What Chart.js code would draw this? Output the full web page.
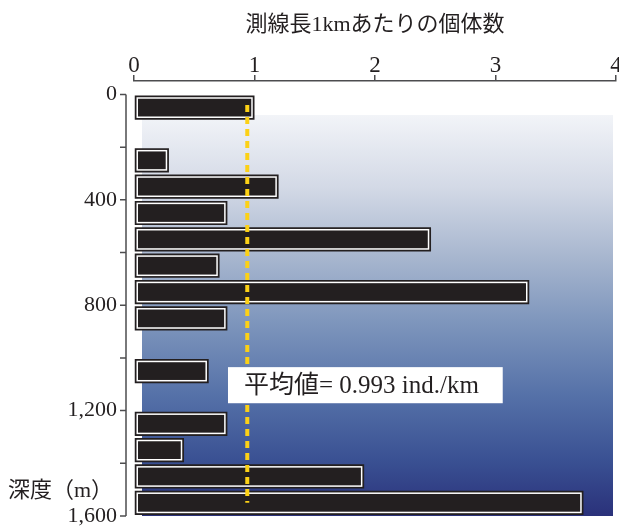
<!DOCTYPE html>
<html>
<head>
<meta charset="utf-8">
<script src="https://cdn.jsdelivr.net/npm/chart.js@4.4.1/dist/chart.umd.min.js"></script>
<style>
    html, body { margin: 0; padding: 0; background: #fff; }
    #wrap { width: 619px; height: 528px; }
</style>
</head>
<body>
<div id="wrap"><canvas id="depthChart"></canvas></div>
<script>
// centre of each 100 m depth layer and the count per 1 km of survey line
const depthBins = [50, 150, 250, 350, 450, 550, 650, 750, 850, 950, 1050, 1150, 1250, 1350, 1450, 1550];
const counts = [1.0, null, 0.29, 1.2, 0.775, 2.465, 0.71, 3.28, 0.775, null, 0.62, null, 0.775, 0.415, 1.91, 3.73];

const xTicks = [0, 1, 2, 3, 4];
const depthTicks = [0, 200, 400, 600, 800, 1000, 1200, 1400, 1600];
const labeledDepths = [0, 400, 800, 1200, 1600];

const meanValue = 0.993;
const meanLineX = 0.94; // where the dashed line sits in the figure
const xTitle = '測線長1kmあたりの個体数';
const yTitle = '深度（m）';
const meanLabel = '平均値= ' + meanValue + ' ind./km';

const ink = '#231f20';
const axisColor = '#4d4d4f';
const serif = "'Liberation Serif', 'Noto Sans CJK JP', serif";

// blue wash behind the bars, lighter near the surface
const backgroundPlugin = {
    id: 'seaBackground',
    beforeDatasetsDraw(chart) {
        const { ctx, chartArea: a, scales: { y } } = chart;
        const top = y.getPixelForValue(78);
        const g = ctx.createLinearGradient(0, top, 0, a.bottom);
        g.addColorStop(0, '#f2f4f8');
        g.addColorStop(0.18, '#d3d9e6');
        g.addColorStop(0.36, '#a6b5ce');
        g.addColorStop(0.52, '#7d95bc');
        g.addColorStop(0.7, '#5571a8');
        g.addColorStop(0.86, '#3a5193');
        g.addColorStop(1, '#2a317a');
        ctx.save();
        ctx.fillStyle = g;
        ctx.fillRect(a.left + 8, top, a.right - a.left - 11, a.bottom - top);
        ctx.restore();
    }
};

// white inner outline on each bar
const barEdgePlugin = {
    id: 'barEdge',
    afterDatasetsDraw(chart) {
        const { ctx } = chart;
        const meta = chart.getDatasetMeta(0);
        ctx.save();
        ctx.strokeStyle = '#ffffff';
        ctx.lineWidth = 1.5;
        meta.data.forEach((bar, i) => {
            if (counts[i] == null) return;
            const { x, y, base, height } = bar.getProps(['x', 'y', 'base', 'height'], true);
            const left = Math.min(x, base);
            const w = Math.abs(x - base);
            ctx.strokeRect(left + 2.5, y - height / 2 + 2.5, w - 5, height - 5);
        });
        ctx.restore();
    }
};

// dashed mean line + its label box
const meanPlugin = {
    id: 'meanLine',
    afterDatasetsDraw(chart) {
        const { ctx, scales: { x, y } } = chart;
        const px = x.getPixelForValue(meanLineX);
        ctx.save();
        ctx.strokeStyle = '#fcd116';
        ctx.lineWidth = 4;
        ctx.setLineDash([7, 5]);
        ctx.beginPath();
        ctx.moveTo(px, y.getPixelForValue(40));
        ctx.lineTo(px, y.getPixelForValue(1550));
        ctx.stroke();
        ctx.setLineDash([]);

        const bl = x.getPixelForValue(0.78);
        const br = x.getPixelForValue(3.06);
        const bt = y.getPixelForValue(1035);
        const bb = y.getPixelForValue(1172);
        ctx.fillStyle = '#ffffff';
        ctx.fillRect(bl, bt, br - bl, bb - bt);
        ctx.fillStyle = ink;
        ctx.font = '25px ' + serif;
        ctx.textAlign = 'left';
        ctx.textBaseline = 'middle';
        ctx.fillText(meanLabel, bl + 16, (bt + bb) / 2 + 1);
        ctx.restore();
    }
};

// depth axis sits a little left of the bars
const depthAxisPlugin = {
    id: 'depthAxis',
    afterDraw(chart) {
        const { ctx, chartArea: a, scales: { y } } = chart;
        const ax = a.left - 8;
        ctx.save();
        ctx.strokeStyle = axisColor;
        ctx.lineWidth = 1.5;
        ctx.beginPath();
        ctx.moveTo(ax, y.getPixelForValue(0));
        ctx.lineTo(ax, y.getPixelForValue(1600));
        y.ticks.forEach(t => {
            const ty = y.getPixelForValue(t.value);
            ctx.moveTo(ax - 6, ty);
            ctx.lineTo(ax, ty);
        });
        ctx.stroke();

        ctx.fillStyle = ink;
        ctx.font = '22px ' + serif;
        ctx.textAlign = 'left';
        ctx.textBaseline = 'middle';
        ctx.fillText(yTitle, 8, y.getPixelForValue(1500) + 2);
        ctx.restore();
    }
};

const ctx = document.getElementById('depthChart');
new Chart(ctx, {
    type: 'bar',
    data: {
        datasets: [{
            data: depthBins.map((d, i) => ({ x: counts[i], y: d })),
            backgroundColor: ink,
            borderWidth: 0,
            categoryPercentage: 1,
            barPercentage: 0.92
        }]
    },
    options: {
        indexAxis: 'y',
        responsive: true,
        maintainAspectRatio: false,
        animation: false,
        layout: { padding: { left: 0, right: 3, top: 0, bottom: 12 } },
        plugins: {
            legend: { display: false },
            tooltip: { enabled: false }
        },
        scales: {
            x: {
                type: 'linear',
                position: 'top',
                min: 0,
                max: 4,
                afterBuildTicks: s => { s.ticks = xTicks.map(v => ({ value: v })); },
                afterFit: s => { s.height = 81; s.paddingLeft = 0; s.paddingRight = 0; },
                grid: {
                    drawOnChartArea: false,
                    drawTicks: true,
                    tickLength: 6,
                    color: axisColor,
                    lineWidth: 1.5
                },
                border: { color: axisColor, width: 1.5 },
                ticks: {
                    padding: -5,
                    color: ink,
                    font: { family: serif, size: 23 }
                },
                title: {
                    display: true,
                    text: xTitle,
                    color: ink,
                    font: { family: serif, size: 22 },
                    padding: { top: 12, bottom: 0 }
                }
            },
            y: {
                type: 'linear',
                reverse: true,
                offset: false,
                min: -51,
                max: 1600,
                afterBuildTicks: s => { s.ticks = depthTicks.map(v => ({ value: v })); },
                afterFit: s => { s.width = 134; s.paddingTop = 0; s.paddingBottom = 0; },
                grid: { display: false, drawTicks: false, offset: false },
                border: { display: false },
                ticks: {
                    padding: 17,
                    autoSkip: false,
                    color: ink,
                    font: { family: serif, size: 22 },
                    callback: v => labeledDepths.includes(v) ? v.toLocaleString('en-US') : ''
                }
            }
        }
    },
    plugins: [backgroundPlugin, barEdgePlugin, meanPlugin, depthAxisPlugin]
});
</script>
</body>
</html>
